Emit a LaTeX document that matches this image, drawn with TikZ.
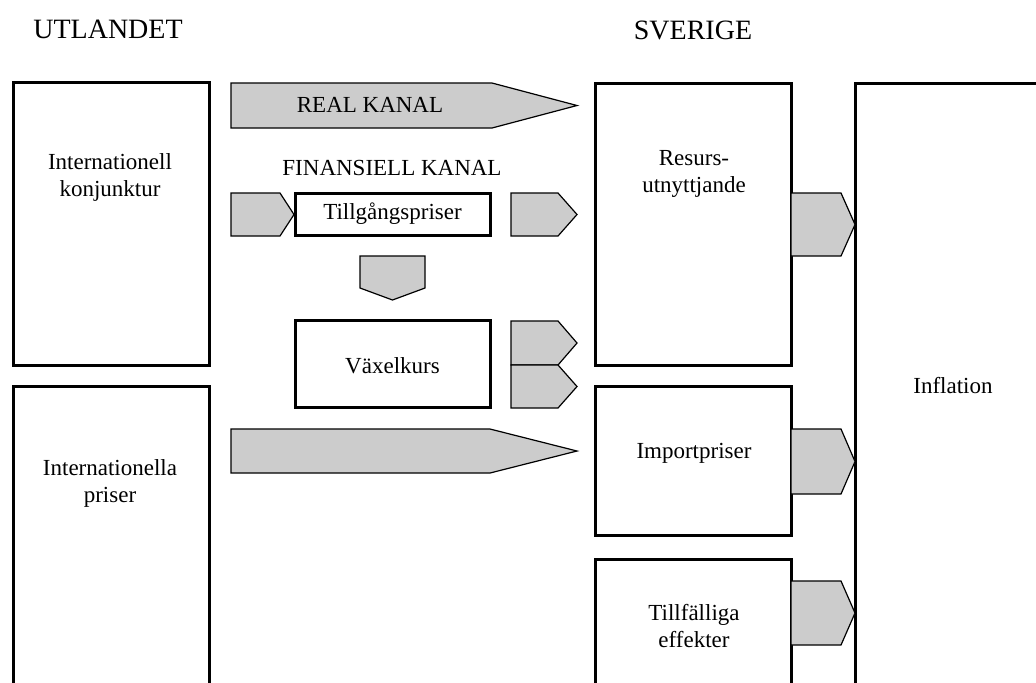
\documentclass[tikz,border=0pt]{standalone}
\usepackage{fontspec}
\setmainfont{Liberation Serif}
\usepackage{tikz}
\usetikzlibrary{positioning, calc}
\definecolor{pilgra}{RGB}{204, 204, 204}
\tikzset{
  box/.style={draw, line width=1.5pt, inner sep=0pt},
  lbl/.style={align=center, font=\fontsize{11.5}{13.5}\selectfont, inner sep=0pt},
  rubrik/.style={font=\fontsize{14}{16}\selectfont, inner sep=0pt},
  pil/.style={draw, line width=0.6pt, fill=pilgra, line join=miter}
}

\begin{document}
\begin{tikzpicture}[x=0.5pt, y=-0.5pt]
  \useasboundingbox (0,0) rectangle (1036,682);
  \clip (0,0) rectangle (1036,682);

  % rubriker
  \node[rubrik] (utland) at (108,29) {UTLANDET};
  \node[rubrik] (sverige) at (693,30) {SVERIGE};

  % utlandet
  \node[box, minimum width=98pt, minimum height=141.5pt] (konj) at (111,223.5) {};
  \node[lbl] (konjtxt) at (110,177) {Internationell\\konjunktur};
  \node[box, minimum width=98pt, minimum height=157pt] (intpris) at (111,543) {};
  \node[lbl] (intpristxt) at (110,483) {Internationella\\priser};

  % kanaler
  \draw[pil] (231,83) -- (492,83) -- (577,105.5) -- (492,128) -- (231,128) -- cycle;
  \node[lbl] (real) at (370,105) {REAL KANAL};
  \node[lbl] (fin) at (392,168) {FINANSIELL KANAL};
  \node[box, minimum width=97.5pt, minimum height=21pt] (tillg) at (392.5,214) {};
  \node[lbl] (tillgtxt) at (392.5,214) {Tillgångspriser};
  \draw[pil] (231,193) -- (280,193) -- (294,214.5) -- (280,236) -- (231,236) -- cycle;
  \draw[pil] (511,193) -- (558,193) -- (577,214.5) -- (558,236) -- (511,236) -- cycle;
  \draw[pil] (360,256) -- (425,256) -- (425,288) -- (392.5,300) -- (360,288) -- cycle;
  \node[box, minimum width=97.5pt, minimum height=43.5pt] (vaxel) at (392.5,363.5) {};
  \node[lbl] (vaxeltxt) at (392.5,366) {Växelkurs};
  \draw[pil] (511,321) -- (558,321) -- (577,343) -- (558,365) -- (511,365) -- cycle;
  \draw[pil] (511,365) -- (558,365) -- (577,386.5) -- (558,408) -- (511,408) -- cycle;
  \draw[pil] (231,429) -- (490,429) -- (577,451) -- (490,473) -- (231,473) -- cycle;

  % sverige
  \node[box, minimum width=98pt, minimum height=141pt] (resurs) at (693,224) {};
  \node[lbl] (resurstxt) at (694,174) {Resurs-\\utnyttjande};
  \node[box, minimum width=98pt, minimum height=74.5pt] (import) at (693,460.5) {};
  \node[lbl] (importtxt) at (694,453) {Importpriser};
  \node[box, minimum width=98pt, minimum height=70.5pt] (tillf) at (693,629.5) {};
  \node[lbl] (tillftxt) at (694,626) {Tillfälliga\\effekter};
  \node[box, minimum width=97.5pt, minimum height=308.5pt] (infl) at (952.5,391.5) {};
  \node[lbl] (infltxt) at (953,385) {Inflation};

  \draw[pil] (791,193) -- (841,193) -- (855,224.5) -- (841,256) -- (791,256) -- cycle;
  \draw[pil] (791,429) -- (841,429) -- (855,461.5) -- (841,494) -- (791,494) -- cycle;
  \draw[pil] (791,581) -- (841,581) -- (855,613) -- (841,645) -- (791,645) -- cycle;
\end{tikzpicture}
\end{document}
